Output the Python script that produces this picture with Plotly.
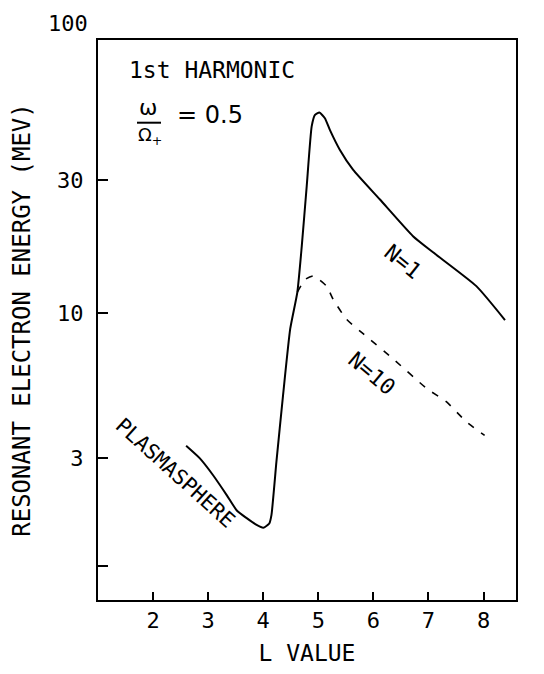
import numpy as np
import plotly.graph_objects as go

# Resonant electron energy (MeV) versus L value, 1st harmonic, omega/Omega+ = 0.5
l_n1 = [2.60, 2.85, 3.09, 3.34, 3.52, 3.70, 3.88, 4.00, 4.11, 4.15, 4.24, 4.36,
        4.49, 4.62, 4.70, 4.79, 4.88, 4.94, 5.02, 5.12, 5.21, 5.39, 5.63, 6.12,
        6.72, 7.09, 7.87, 8.39]
e_n1 = [3.33, 3.00, 2.61, 2.21, 1.95, 1.83, 1.73, 1.69, 1.75, 1.88, 2.92, 5.06,
        8.77, 11.9, 17.4, 28.6, 46.9, 51.6, 52.6, 50.2, 45.6, 38.7, 32.8, 25.6,
        18.9, 16.5, 12.5, 9.44]

l_n10 = [4.62, 4.76, 4.91, 5.15, 5.27, 5.51, 5.82, 6.36, 6.97, 7.33, 7.69, 8.02]
e_n10 = [11.9, 13.2, 13.6, 12.5, 11.2, 9.51, 8.41, 6.84, 5.35, 4.79, 4.06, 3.63]

x_tickvals = [2, 3, 4, 5, 6, 7, 8]
y_tickvals = [1.23, 3, 10, 30]
y_ticktext = ["", "3", "10", "30"]

MONO = "DejaVu Sans Mono"
HAND = "DejaVu Sans"

# plot-area geometry in pixels, used for placing the free text
PX_L, PX_R, PX_T, PX_B = 98, 516, 40, 602


def px(x):
    return (x - PX_L) / (PX_R - PX_L)


def py(y):
    return (PX_B - y) / (PX_B - PX_T)


fig = go.Figure()
fig.add_trace(go.Scatter(x=l_n1, y=e_n1, mode="lines",
                         line=dict(color="black", width=2, shape="spline", smoothing=0.5),
                         showlegend=False))
fig.add_trace(go.Scatter(x=l_n10, y=e_n10, mode="lines",
                         line=dict(color="black", width=1.6, dash="7px,9px",
                                   shape="spline", smoothing=0.5),
                         showlegend=False))

fig.update_layout(
    width=544, height=674,
    margin=dict(l=PX_L, r=544 - PX_R, t=PX_T, b=674 - PX_B),
    paper_bgcolor="white", plot_bgcolor="white",
    font=dict(family=MONO, color="black", size=22),
    xaxis=dict(range=[1, 8.59], tickvals=x_tickvals, ticks="inside", ticklen=8,
               tickwidth=2, tickcolor="black", showline=True, linewidth=2,
               linecolor="black", mirror=True, showgrid=False, zeroline=False,
               tickfont=dict(family=MONO, size=22),
               title=dict(text="L VALUE", font=dict(family=MONO, size=23), standoff=12)),
    yaxis=dict(type="log", range=[-0.032, 1.982], tickvals=y_tickvals,
               ticktext=y_ticktext, ticks="inside", ticklen=10, tickwidth=2,
               tickcolor="black", showline=True, linewidth=2, linecolor="black",
               mirror=True, showgrid=False, zeroline=False, ticklabelstandoff=8,
               tickfont=dict(family=MONO, size=22),
               title=dict(text="RESONANT ELECTRON ENERGY (MEV)",
                          font=dict(family=MONO, size=24), standoff=20)),
)


def label(text, x, y, size, family=MONO, xanchor="center"):
    return dict(text=text, xref="paper", yref="paper", x=px(x), y=py(y),
                xanchor=xanchor, yanchor="middle", showarrow=False,
                font=dict(family=family, size=size))


annotations = [
    label("100", 68, 23, 22),
    label("1st HARMONIC", 127, 70, 23, xanchor="left"),
    label("ω", 148, 108, 22, family=HAND),
    label("Ω<sub>+</sub>", 150, 136, 18, family=HAND),
    label("= 0.5", 175, 115, 24, family=HAND, xanchor="left"),
    dict(text="N=1", x=6.53, y=np.log10(15.3), textangle=39, showarrow=False,
         font=dict(family=MONO, size=22)),
    dict(text="N=10", x=5.97, y=np.log10(6.04), textangle=40, showarrow=False,
         font=dict(family=MONO, size=22)),
    dict(text="PLASMASPHERE", x=2.40, y=np.log10(2.65), textangle=42,
         showarrow=False, font=dict(family=MONO, size=21)),
]
fig.update_layout(annotations=annotations)

# fraction bar of omega over Omega+
fig.add_shape(type="line", xref="paper", yref="paper",
              x0=px(137), x1=px(161), y0=py(123), y1=py(123),
              line=dict(color="black", width=2))

fig.write_html("out.html")
